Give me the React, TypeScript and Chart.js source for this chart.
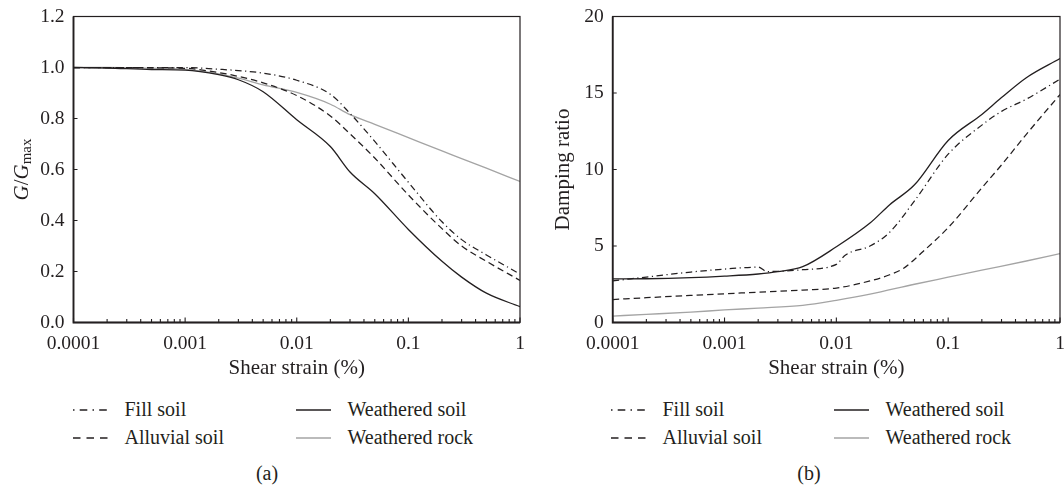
import React, { useEffect, useRef } from 'react';
import { Chart, registerables } from 'chart.js';

Chart.register(...registerables);

// ---------------- data ----------------
const SERIES_NAMES = ['Fill soil', 'Alluvial soil', 'Weathered soil', 'Weathered rock'];

const X_MAJOR = [0.0001, 0.001, 0.01, 0.1, 1];
const X_TICK_LABELS = ['0.0001', '0.001', '0.01', '0.1', '1'];

const G_Y_TICKS = [0, 0.2, 0.4, 0.6, 0.8, 1.0, 1.2];
const G_Y_TICK_LABELS = ['0.0', '0.2', '0.4', '0.6', '0.8', '1.0', '1.2'];
const D_Y_TICKS = [0, 5, 10, 15, 20];
const D_Y_TICK_LABELS = ['0', '5', '10', '15', '20'];

// (a) G/Gmax curves
const G_STRAIN = [0.0001, 0.0002, 0.0005, 0.001, 0.002, 0.003, 0.005, 0.01, 0.02, 0.03, 0.05, 0.1, 0.2, 0.3, 0.5, 1];
const G_FILL = [1.0, 1.0, 1.0, 1.0, 0.993, 0.988, 0.978, 0.95, 0.895, 0.82, 0.71, 0.55, 0.395, 0.325, 0.265, 0.19];
const G_ALLUVIAL = [1.0, 1.0, 0.999, 0.997, 0.98, 0.965, 0.94, 0.89, 0.81, 0.74, 0.645, 0.5, 0.368, 0.3, 0.24, 0.165];
const G_WEATHERED_SOIL = [1.0, 0.998, 0.992, 0.99, 0.972, 0.952, 0.905, 0.795, 0.69, 0.59, 0.505, 0.365, 0.24, 0.178, 0.115, 0.062];
const G_WEATHERED_ROCK = [1.0, 1.0, 0.997, 0.993, 0.975, 0.958, 0.932, 0.902, 0.856, 0.815, 0.777, 0.725, 0.673, 0.643, 0.605, 0.553];

// (b) damping ratio curves
const D_FILL_STRAIN = [0.0001, 0.0002, 0.0005, 0.001, 0.002, 0.0024, 0.005, 0.01, 0.012, 0.02, 0.03, 0.05, 0.1, 0.2, 0.3, 0.5, 1];
const D_FILL = [2.72, 2.97, 3.3, 3.49, 3.62, 3.33, 3.45, 3.8, 4.4, 5.0, 5.9, 7.95, 11.0, 12.9, 13.8, 14.6, 15.9];
const D_ALLUVIAL_STRAIN = [0.0001, 0.0002, 0.0005, 0.001, 0.002, 0.005, 0.01, 0.02, 0.03, 0.04, 0.06, 0.1, 0.2, 0.3, 0.5, 1];
const D_ALLUVIAL = [1.5, 1.62, 1.77, 1.88, 1.98, 2.12, 2.25, 2.72, 3.12, 3.55, 4.66, 6.2, 8.8, 10.3, 12.3, 14.9];
const D_WSOIL_STRAIN = [0.0001, 0.0002, 0.0005, 0.001, 0.002, 0.003, 0.005, 0.01, 0.02, 0.03, 0.05, 0.1, 0.2, 0.3, 0.5, 1];
const D_WEATHERED_SOIL = [2.85, 2.86, 2.93, 3.03, 3.17, 3.32, 3.65, 4.95, 6.5, 7.7, 9.0, 11.9, 13.6, 14.7, 16.0, 17.25];
const D_WROCK_STRAIN = [0.0001, 0.0002, 0.0005, 0.001, 0.002, 0.005, 0.01, 0.02, 0.05, 0.1, 0.2, 0.5, 1];
const D_WEATHERED_ROCK = [0.42, 0.53, 0.68, 0.82, 0.94, 1.12, 1.45, 1.85, 2.5, 2.96, 3.42, 4.02, 4.5];

// ---------------- styles ----------------
const INK = '#231f20';
const GREY = '#a4a4a4';
const SERIF = '"Liberation Serif", "Times New Roman", serif';

const STYLES = [
  { color: INK, width: 1.25, dash: [6.5, 3.5, 1.2, 3.5], svgDash: '1.5 5.2 7.6 5.2' },
  { color: INK, width: 1.25, dash: [6.5, 4], svgDash: '7.5 6' },
  { color: INK, width: 1.3, dash: [] as number[], svgDash: '' },
  { color: GREY, width: 1.3, dash: [] as number[], svgDash: '' },
];

const PLOT_TOP = 16.5;
const PLOT_BOTTOM = 322.5;
const CANVAS_H = 390;

function logTicks(): number[] {
  const out: number[] = [];
  for (let i = 0; i < X_MAJOR.length - 1; i++) {
    for (let k = 1; k <= 9; k++) out.push(X_MAJOR[i] * k);
  }
  out.push(X_MAJOR[X_MAJOR.length - 1]);
  return out;
}

function majorIndex(v: number): number {
  return X_MAJOR.findIndex((m) => Math.abs(m - v) / m < 1e-6);
}

const frameTicksPlugin = {
  id: 'frameTicks',
  afterDatasetsDraw(chart: any) {
    const { ctx, chartArea } = chart;
    const { left, right, top, bottom } = chartArea;
    const xs = chart.scales.x;
    const ys = chart.scales.y;
    ctx.save();
    ctx.strokeStyle = INK;
    ctx.lineWidth = 1.1;
    ctx.beginPath();
    xs.ticks.forEach((t: any) => {
      const px = xs.getPixelForValue(t.value);
      const len = majorIndex(t.value) >= 0 ? 5 : 3.5;
      ctx.moveTo(px, bottom);
      ctx.lineTo(px, bottom - len);
    });
    ys.ticks.forEach((t: any) => {
      const py = ys.getPixelForValue(t.value);
      ctx.moveTo(left, py);
      ctx.lineTo(left + 4, py);
    });
    ctx.stroke();
    ctx.lineWidth = 1.2;
    ctx.strokeRect(left, top, right - left, bottom - top);
    ctx.lineWidth = 1.8;
    ctx.beginPath();
    ctx.moveTo(left, top);
    ctx.lineTo(left, bottom);
    ctx.lineTo(right, bottom);
    ctx.stroke();
    ctx.restore();
  },
};

const gTitlePlugin = {
  id: 'gTitle',
  afterDraw(chart: any) {
    const { ctx, chartArea } = chart;
    const cy = (chartArea.top + chartArea.bottom) / 2;
    const cx = 22;
    const parts = [
      { t: 'G', font: `italic 21px ${SERIF}`, dy: 0 },
      { t: '/', font: `21px ${SERIF}`, dy: 0 },
      { t: 'G', font: `italic 21px ${SERIF}`, dy: 0 },
      { t: 'max', font: `15px ${SERIF}`, dy: 5 },
    ];
    ctx.save();
    ctx.translate(cx, cy);
    ctx.rotate(-Math.PI / 2);
    ctx.fillStyle = INK;
    ctx.textBaseline = 'middle';
    ctx.textAlign = 'left';
    let total = 0;
    parts.forEach((p) => {
      ctx.font = p.font;
      total += ctx.measureText(p.t).width;
    });
    let x = -total / 2;
    parts.forEach((p) => {
      ctx.font = p.font;
      ctx.fillText(p.t, x, p.dy);
      x += ctx.measureText(p.t).width;
    });
    ctx.restore();
  },
};

function buildDatasets(strains: number[][], values: number[][]) {
  return SERIES_NAMES.map((name, i) => ({
    label: name,
    data: strains[i].map((x, j) => ({ x, y: values[i][j] })),
    borderColor: STYLES[i].color,
    borderWidth: STYLES[i].width,
    borderDash: STYLES[i].dash,
    pointRadius: 0,
    pointHoverRadius: 0,
    fill: false,
    cubicInterpolationMode: 'monotone' as const,
  }));
}

type PanelProps = {
  canvasLeft: number;
  canvasWidth: number;
  plotLeft: number;
  plotRight: number;
  datasets: any[];
  yTicks: number[];
  yTickLabels: string[];
  yMax: number;
  yTitle: string | null;
  yTitlePad: number;
};

function Panel(props: PanelProps) {
  const ref = useRef<HTMLCanvasElement | null>(null);
  useEffect(() => {
    const canvas = ref.current;
    if (!canvas) return;
    const { canvasLeft, canvasWidth, plotLeft, plotRight, yTicks, yTickLabels } = props;
    const yWidth = plotLeft - canvasLeft;
    const rightPad = canvasLeft + canvasWidth - plotRight;
    const plugins: any[] = [frameTicksPlugin];
    if (!props.yTitle) plugins.push(gTitlePlugin);
    const chart = new Chart(canvas, {
      type: 'line',
      data: { datasets: props.datasets },
      plugins,
      options: {
        responsive: false,
        animation: false,
        devicePixelRatio: 1,
        layout: { padding: { left: 0, top: PLOT_TOP, right: rightPad, bottom: 0 } },
        plugins: { legend: { display: false }, tooltip: { enabled: false } },
        scales: {
          x: {
            type: 'logarithmic',
            min: X_MAJOR[0],
            max: X_MAJOR[X_MAJOR.length - 1],
            grid: { display: false, drawTicks: false },
            border: { display: false },
            ticks: {
              autoSkip: false,
              maxRotation: 0,
              minRotation: 0,
              padding: 10,
              color: INK,
              font: { family: SERIF, size: 19.5 },
              callback: (v: any) => {
                const i = majorIndex(Number(v));
                return i >= 0 ? X_TICK_LABELS[i] : '';
              },
            },
            title: {
              display: true,
              text: 'Shear strain (%)',
              color: INK,
              font: { family: SERIF, size: 21 },
              padding: { top: 0, bottom: 9 },
            },
            afterBuildTicks: (scale: any) => {
              scale.ticks = logTicks().map((v) => ({ value: v }));
            },
            afterFit: (scale: any) => {
              scale.height = CANVAS_H - PLOT_BOTTOM;
              scale.paddingLeft = 0;
              scale.paddingRight = 0;
            },
          },
          y: {
            type: 'linear',
            min: 0,
            max: props.yMax,
            grid: { display: false, drawTicks: false },
            border: { display: false },
            ticks: {
              padding: 9,
              color: INK,
              font: { family: SERIF, size: 19.5 },
              callback: (v: any) => {
                const i = yTicks.findIndex((t) => Math.abs(t - Number(v)) < 1e-6);
                return i >= 0 ? yTickLabels[i] : '';
              },
            },
            title: {
              display: !!props.yTitle,
              text: props.yTitle || '',
              color: INK,
              font: { family: SERIF, size: 21 },
              padding: { top: props.yTitlePad, bottom: 0 },
            },
            afterBuildTicks: (scale: any) => {
              scale.ticks = yTicks.map((v) => ({ value: v }));
            },
            afterFit: (scale: any) => {
              scale.width = yWidth;
              scale.paddingTop = 0;
              scale.paddingBottom = 0;
            },
          },
        },
      } as any,
    });
    return () => chart.destroy();
  }, []);
  return (
    <canvas
      ref={ref}
      width={props.canvasWidth}
      height={CANVAS_H}
      style={{ position: 'absolute', left: props.canvasLeft, top: 0, display: 'block' }}
    />
  );
}

const LEGEND_ROWS = [
  [0, 2],
  [1, 3],
];

function Legend({ left }: { left: number }) {
  const rowCenters = [408.5, 437];
  const colOffsets = [0, 223];
  const items: any[] = [];
  LEGEND_ROWS.forEach((row, r) => {
    row.forEach((si, c) => {
      const x0 = left + colOffsets[c];
      const cy = rowCenters[r];
      const st = STYLES[si];
      items.push(
        <svg
          key={`s${si}`}
          width={36}
          height={6}
          style={{ position: 'absolute', left: x0, top: cy - 2 }}
        >
          <line
            x1={0}
            y1={3}
            x2={35}
            y2={3}
            stroke={st.color}
            strokeWidth={1.4}
            strokeDasharray={st.svgDash || undefined}
          />
        </svg>
      );
      items.push(
        <div
          key={`t${si}`}
          style={{
            position: 'absolute',
            left: x0 + 51.5,
            top: cy - 12,
            lineHeight: '24px',
            fontSize: 20,
            fontFamily: SERIF,
            color: INK,
            whiteSpace: 'nowrap',
          }}
        >
          {SERIES_NAMES[si]}
        </div>
      );
    });
  });
  return <>{items}</>;
}

function Caption({ cx, text }: { cx: number; text: string }) {
  return (
    <div
      style={{
        position: 'absolute',
        left: cx - 40,
        width: 80,
        top: 461,
        textAlign: 'center',
        lineHeight: '24px',
        fontSize: 20,
        fontFamily: SERIF,
        color: INK,
      }}
    >
      {text}
    </div>
  );
}

export default function App() {
  const gDatasets = buildDatasets(
    [G_STRAIN, G_STRAIN, G_STRAIN, G_STRAIN],
    [G_FILL, G_ALLUVIAL, G_WEATHERED_SOIL, G_WEATHERED_ROCK]
  );
  const dDatasets = buildDatasets(
    [D_FILL_STRAIN, D_ALLUVIAL_STRAIN, D_WSOIL_STRAIN, D_WROCK_STRAIN],
    [D_FILL, D_ALLUVIAL, D_WEATHERED_SOIL, D_WEATHERED_ROCK]
  );
  return (
    <div
      style={{
        position: 'fixed',
        left: 0,
        top: 0,
        width: 1064,
        height: 487,
        overflow: 'hidden',
        background: '#ffffff',
      }}
    >
      <Panel
        canvasLeft={0}
        canvasWidth={532}
        plotLeft={73.5}
        plotRight={520}
        datasets={gDatasets}
        yTicks={G_Y_TICKS}
        yTickLabels={G_Y_TICK_LABELS}
        yMax={1.2}
        yTitle={null}
        yTitlePad={0}
      />
      <Panel
        canvasLeft={532}
        canvasWidth={540}
        plotLeft={612.7}
        plotRight={1060}
        datasets={dDatasets}
        yTicks={D_Y_TICKS}
        yTickLabels={D_Y_TICK_LABELS}
        yMax={20}
        yTitle={'Damping ratio'}
        yTitlePad={19}
      />
      <Legend left={73} />
      <Legend left={611} />
      <Caption cx={267} text="(a)" />
      <Caption cx={809} text="(b)" />
    </div>
  );
}
